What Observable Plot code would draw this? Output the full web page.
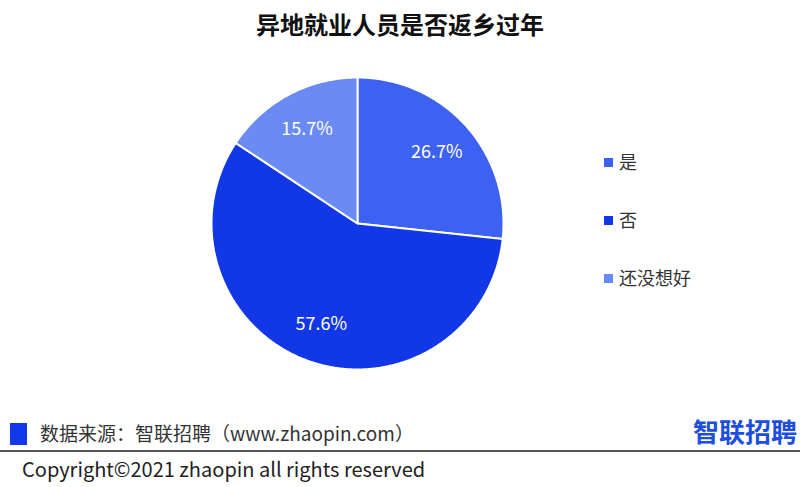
<!DOCTYPE html>
<html>
<head>
<meta charset="utf-8">
<script src="https://cdn.jsdelivr.net/npm/d3@7"></script>
<script src="https://cdn.jsdelivr.net/npm/@observablehq/plot@0.6"></script>
<style>
  html, body { margin: 0; padding: 0; background: #fff; }
  body { font-family: "Noto Sans CJK SC", "Noto Sans", sans-serif; }
  #root { position: relative; width: 800px; height: 487px; overflow: hidden; background: #fff; }
  #title { position: absolute; left: 0; width: 800px; top: 6px; text-align: center;
           font-size: 24px; font-weight: bold; color: #111; line-height: 36px; }
  #chart { position: absolute; left: 0; top: 50px; }
  #chart svg { overflow: visible; }
  #legend { position: absolute; left: 604px; top: 0; }
  .item { position: absolute; left: 0; white-space: nowrap; font-size: 18px; color: #333; line-height: 24px; }
  .item .sw { display: inline-block; width: 9px; height: 9px; margin-right: 6px; vertical-align: 2px; }
  #src-box { position: absolute; left: 10px; top: 423px; width: 17px; height: 22px; background: #1238ea; }
  #src { position: absolute; left: 40px; top: 419px; font-size: 19px; color: #333; line-height: 28px; white-space: nowrap; }
  #logo { position: absolute; right: 3px; top: 413px; font-size: 26px; font-weight: bold; color: #1d4ee0; line-height: 36px; }
  #rule { position: absolute; left: 0; top: 450px; width: 800px; height: 2px; background: #555; }
  #copy { position: absolute; left: 22px; top: 455px; font-size: 20px; color: #222; line-height: 28px; white-space: nowrap; }
</style>
</head>
<body>
<div id="root">
  <div id="title"></div>
  <div id="chart"></div>
  <div id="legend"></div>
  <div id="src-box"></div>
  <div id="src"></div>
  <div id="logo"></div>
  <div id="rule"></div>
  <div id="copy"></div>
</div>
<script>
const titleText = "异地就业人员是否返乡过年";
const categories = ["是", "否", "还没想好"];
const values = [26.7, 57.6, 15.7];
const colors = ["#3d62f1", "#1237e7", "#6a8bf3"];
const sourceText = "数据来源：智联招聘（www.zhaopin.com）";
const logoText = "智联招聘";
const copyrightText = "Copyright©2021 zhaopin all rights reserved";

document.getElementById("title").textContent = titleText;
document.getElementById("src").textContent = sourceText;
document.getElementById("logo").textContent = logoText;
document.getElementById("copy").textContent = copyrightText;

const data = categories.map((c, i) => ({cat: c, value: values[i]}));
const arcs = d3.pie().sort(null).value(d => d.value)(data);

const pts = [];
const labelPts = [];
arcs.forEach(a => {
  const cat = a.data.cat;
  pts.push({cat, x: 0, y: 0});
  const n = Math.max(2, Math.ceil((a.endAngle - a.startAngle) / (Math.PI / 360)));
  for (let i = 0; i <= n; i++) {
    const t = a.startAngle + (a.endAngle - a.startAngle) * i / n;
    pts.push({cat, x: Math.sin(t), y: Math.cos(t)});
  }
  const m = (a.startAngle + a.endAngle) / 2;
  labelPts.push({cat, x: 0.73 * Math.sin(m), y: 0.73 * Math.cos(m), text: a.data.value.toFixed(1) + "%"});
});

const chart = Plot.plot({
  width: 800,
  height: 350,
  marginLeft: 211,
  marginRight: 297,
  marginTop: 27,
  marginBottom: 31,
  x: {domain: [-1, 1], axis: null},
  y: {domain: [-1, 1], axis: null},
  color: {domain: categories, range: colors},
  style: {fontFamily: "'Noto Sans CJK SC', 'Noto Sans', sans-serif", background: "transparent"},
  marks: [
    Plot.line(pts, {x: "x", y: "y", z: "cat", fill: "cat", stroke: "white", strokeWidth: 2,
      strokeLinejoin: "round", curve: "linear-closed"}),
    Plot.text(labelPts, {x: "x", y: "y", text: "text", fill: "white", fontSize: 18})
  ]
});
document.getElementById("chart").appendChild(chart);

const legendY = [149, 207, 265];
const legend = document.getElementById("legend");
categories.forEach((c, i) => {
  const item = document.createElement("div");
  item.className = "item";
  item.style.top = legendY[i] + "px";
  const sw = document.createElement("span");
  sw.className = "sw";
  sw.style.background = colors[i];
  item.appendChild(sw);
  item.appendChild(document.createTextNode(c));
  legend.appendChild(item);
});
</script>
</body>
</html>
